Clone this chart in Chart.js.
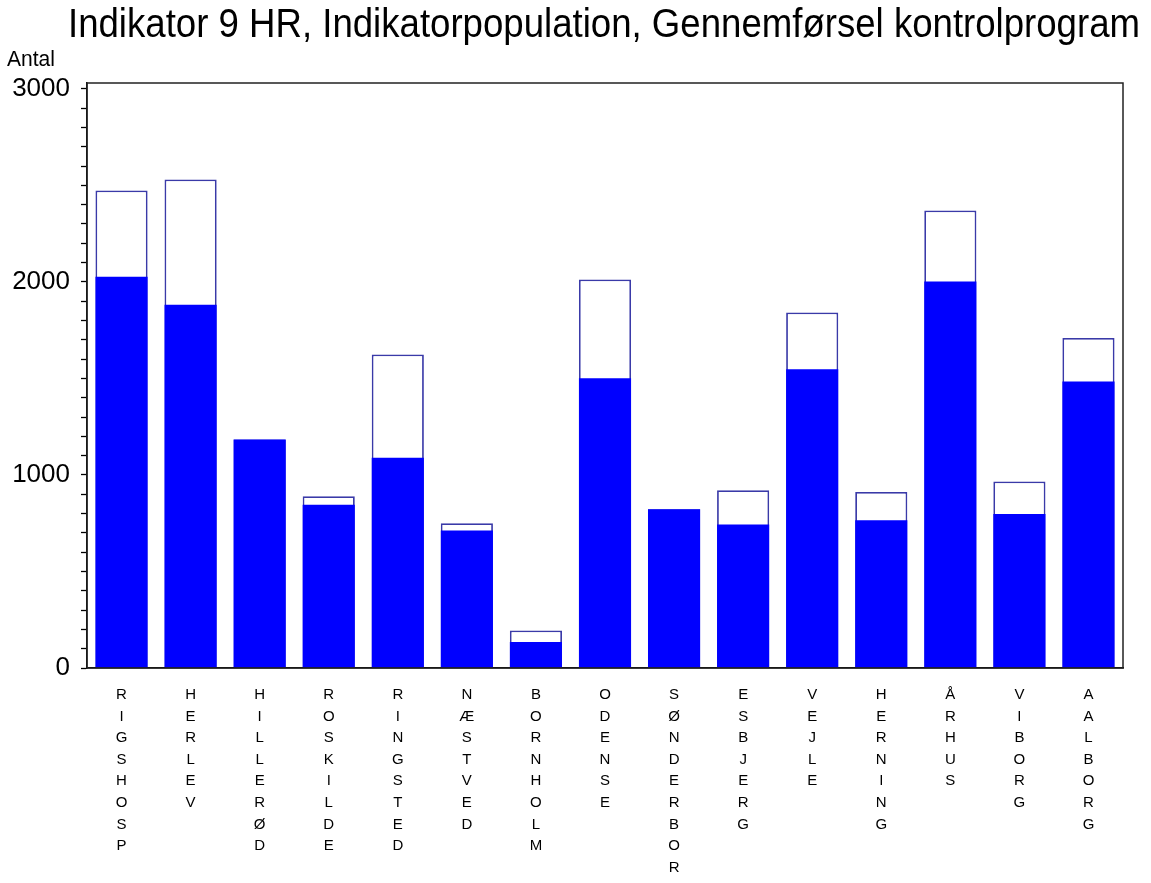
<!DOCTYPE html>
<html><head><meta charset="utf-8">
<script src="https://cdn.jsdelivr.net/npm/chart.js@4/dist/chart.umd.min.js"></script>
<style>html,body{margin:0;padding:0;background:#fff;overflow:hidden}#wrap{width:1151px;height:883px;position:relative}</style>
</head><body><div id="wrap"><canvas id="c" width="1151" height="883"></canvas></div>
<script>
const titleText = 'Indikator 9 HR, Indikatorpopulation, Gennemførsel kontrolprogram';
const yAxisTitle = 'Antal';
const categories = ['RIGSHOSP','HERLEV','HILLERØD','ROSKILDE','RINGSTED','NÆSTVED','BORNHOLM','ODENSE','SØNDERBORG','ESBJERG','VEJLE','HERNING','ÅRHUS','VIBORG','AALBORG'];
const gennemfoert = [2026,1881,1184,845,1089,712,135,1501,822,743,1548,765,2002,798,1484];
const indikatorpopulation = [2473,2530,1184,890,1624,750,194,2012,822,921,1841,912,2370,966,1709];
const yTickLabels = [0,1000,2000,3000];
const yMinorStep = 100;

const FONT = "'Liberation Sans', Arial, sans-serif";

// draws the title and axis caption with a condensed (horizontally scaled) look
const textPlugin = {
  id: 'texts',
  afterDraw(chart) {
    const ctx = chart.ctx;
    ctx.save();
    ctx.fillStyle = '#000';
    ctx.textBaseline = 'alphabetic';
    ctx.textAlign = 'left';
    ctx.font = '40px ' + FONT;
    const w = ctx.measureText(titleText).width;
    ctx.translate(68, 37);
    ctx.scale(1072 / w, 1);
    ctx.fillText(titleText, 0, 0);
    ctx.restore();

    ctx.save();
    ctx.fillStyle = '#000';
    ctx.textBaseline = 'alphabetic';
    ctx.textAlign = 'left';
    ctx.font = '22px ' + FONT;
    const w2 = ctx.measureText(yAxisTitle).width;
    ctx.translate(7, 66);
    ctx.scale(48 / w2, 1);
    ctx.fillText(yAxisTitle, 0, 0);
    ctx.restore();
  }
};

const framePlugin = {
  id: 'frame',
  afterDraw(chart) {
    const {ctx, chartArea: a} = chart;
    ctx.save();
    ctx.strokeStyle = '#222';
    ctx.lineWidth = 1.5;
    ctx.strokeRect(a.left, a.top, a.right - a.left, a.bottom - a.top);
    ctx.restore();
  }
};

new Chart(document.getElementById('c'), {
  type: 'bar',
  data: {
    labels: categories.map(s => s.split('')),
    datasets: [
      { label: 'Gennemført', data: gennemfoert, backgroundColor: '#0000ff', borderWidth: 0,
        barPercentage: 0.755, categoryPercentage: 1 },
      { label: 'Indikatorpopulation', data: indikatorpopulation, backgroundColor: '#ffffff',
        borderColor: '#3a3aa8', borderWidth: 1.8, borderSkipped: false,
        barPercentage: 0.755, categoryPercentage: 1 }
    ]
  },
  options: {
    responsive: false,
    animation: false,
    devicePixelRatio: 1,
    layout: { padding: { left: 0, right: 28, top: 83, bottom: 0 } },
    plugins: {
      legend: { display: false },
      tooltip: { enabled: false },
      title: { display: false },
      subtitle: { display: false }
    },
    scales: {
      x: {
        stacked: true,
        grid: { display: false, drawTicks: false },
        border: { display: true, color: '#000', width: 1.5 },
        ticks: { color: '#000', padding: 16, maxRotation: 0, autoSkip: false,
          font: { family: FONT, size: 15, lineHeight: 1.44 } },
        afterFit(scale) { scale.height = 215; }
      },
      y: {
        stacked: false,
        min: 0, max: 3030,
        grid: { drawOnChartArea: false, drawTicks: true, tickLength: 6, tickColor: '#000', tickWidth: 1.3 },
        border: { display: true, color: '#000', width: 1.5 },
        ticks: { autoSkip: false, color: '#000', padding: 11,
          font: { family: FONT, size: 26 },
          callback: v => yTickLabels.includes(v) ? String(v) : '' },
        afterBuildTicks(scale) {
          const last = yTickLabels[yTickLabels.length - 1];
          const t = [];
          for (let v = yTickLabels[0]; v <= last; v += yMinorStep) t.push({ value: v });
          scale.ticks = t;
        },
        afterFit(scale) { scale.width = 87; }
      }
    }
  },
  plugins: [framePlugin, textPlugin]
});
</script></body></html>
